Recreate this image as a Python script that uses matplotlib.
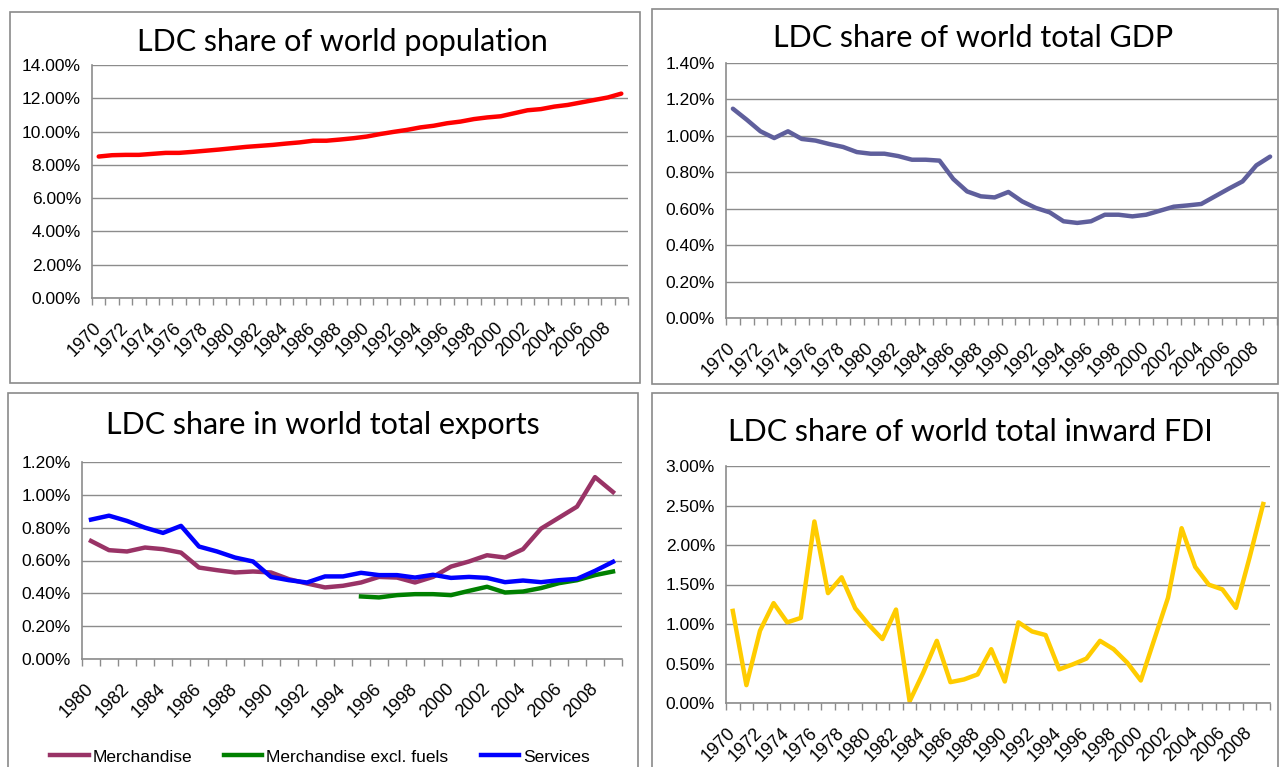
import numpy as np
import matplotlib
matplotlib.use("Agg")
import matplotlib.pyplot as plt
import matplotlib.transforms as mtransforms
from matplotlib.patches import Rectangle
from matplotlib.ticker import FuncFormatter

# data (shares in %)
years_70 = list(range(1970, 2010))
years_80 = list(range(1980, 2010))

population = [8.50, 8.58, 8.60, 8.60, 8.66, 8.72, 8.72, 8.78, 8.85, 8.92,
              9.00, 9.08, 9.14, 9.20, 9.28, 9.35, 9.45, 9.45, 9.52, 9.60,
              9.70, 9.85, 9.98, 10.10, 10.25, 10.35, 10.50, 10.60, 10.75, 10.85,
              10.92, 11.10, 11.28, 11.35, 11.50, 11.60, 11.75, 11.90, 12.05, 12.28]

gdp = [1.149, 1.089, 1.025, 0.988, 1.025, 0.983, 0.974, 0.955, 0.939, 0.911,
       0.902, 0.902, 0.889, 0.869, 0.869, 0.864, 0.763, 0.695, 0.668, 0.662,
       0.692, 0.640, 0.604, 0.580, 0.531, 0.522, 0.531, 0.567, 0.567, 0.558,
       0.567, 0.589, 0.611, 0.618, 0.626, 0.668, 0.710, 0.750, 0.838, 0.886]

merchandise = [0.719, 0.663, 0.655, 0.679, 0.669, 0.648, 0.557, 0.541, 0.527, 0.533,
               0.527, 0.486, 0.460, 0.436, 0.446, 0.466, 0.500, 0.496, 0.466, 0.500,
               0.563, 0.594, 0.632, 0.618, 0.669, 0.794, 0.861, 0.928, 1.108, 1.017]

merch_excl_fuels = [None] * 15 + [0.381, 0.375, 0.389, 0.395, 0.395,
                                  0.389, 0.415, 0.440, 0.405, 0.411,
                                  0.432, 0.462, 0.480, 0.511, 0.533]

services = [0.849, 0.873, 0.841, 0.800, 0.768, 0.811, 0.685, 0.655, 0.618, 0.594,
            0.500, 0.480, 0.466, 0.503, 0.503, 0.525, 0.511, 0.511, 0.496, 0.513,
            0.494, 0.500, 0.494, 0.468, 0.478, 0.468, 0.480, 0.488, 0.537, 0.592]

fdi = [1.166, 0.226, 0.915, 1.264, 1.021, 1.077, 2.298, 1.391, 1.591, 1.200,
       0.991, 0.809, 1.183, 0.021, 0.383, 0.787, 0.264, 0.298, 0.362, 0.681,
       0.272, 1.021, 0.906, 0.860, 0.426, 0.489, 0.562, 0.787, 0.681, 0.511,
       0.285, 0.809, 1.332, 2.213, 1.723, 1.498, 1.438, 1.204, 1.843, 2.519]

W, H = 1279, 767
TICK_FONT = ["Liberation Sans Narrow", "Liberation Sans", "DejaVu Sans"]
TITLE_FONT = ["Lato", "DejaVu Sans"]
GRID = "#8c8c8c"

fig = plt.figure(figsize=(W / 100, H / 100), dpi=100)


def box(x0, y0, x1, y1):
    # grey frame of each chart, pixel coords from the top-left
    r = Rectangle((x0 / W, 1 - y1 / H), (x1 - x0) / W, (y1 - y0) / H,
                  transform=fig.transFigure, fill=False, edgecolor="#8a8a8a", lw=1.2)
    fig.add_artist(r)


def make_axes(x0, y0, x1, y1):
    return fig.add_axes([x0 / W, 1 - y1 / H, (x1 - x0) / W, (y1 - y0) / H])


def style(ax, years, ymax, ystep):
    n = len(years)
    ax.set_xlim(-0.5, n - 0.5)
    ax.set_ylim(0, ymax)
    ax.set_yticks(np.arange(0, ymax + ystep / 2, ystep))
    ax.yaxis.set_major_formatter(FuncFormatter(lambda v, p: "%.2f%%" % v))
    ax.grid(axis="y", color=GRID, lw=1)
    ax.set_axisbelow(True)
    for s in ["top", "right"]:
        ax.spines[s].set_visible(False)
    for s in ["left", "bottom"]:
        ax.spines[s].set_color(GRID)
        ax.spines[s].set_linewidth(1.2)
    ax.tick_params(axis="y", length=0, pad=8)
    # labels every other year at category centres, tick marks at boundaries
    ax.set_xticks(range(0, n, 2))
    ax.set_xticklabels([str(y) for y in years[::2]], rotation=45,
                       ha="right", va="top", rotation_mode="anchor")
    ax.tick_params(axis="x", length=0, pad=15.5)
    ax.set_xticks(np.arange(-0.5, n, 1), minor=True)
    ax.tick_params(axis="x", which="minor", length=5, color=GRID, width=1)
    shift = mtransforms.ScaledTranslation(-6 / 100, 0, fig.dpi_scale_trans)
    for lab in ax.get_xticklabels():
        lab.set_transform(lab.get_transform() + shift)
        lab.set_family(TICK_FONT)
        lab.set_fontsize(13)
    for lab in ax.get_yticklabels():
        lab.set_family(TICK_FONT)
        lab.set_fontsize(12.5)


def title(text, cx, cy):
    fig.text(cx / W, 1 - cy / H, text, ha="center", va="center",
             fontsize=22, family=TITLE_FONT)


# frames
box(10, 12, 640, 383)
box(652, 9, 1278, 384)
box(8, 393, 638, 800)
box(652, 393, 1278, 800)

# population
ax1 = make_axes(92, 65, 628, 298)
style(ax1, years_70, 14, 2)
ax1.plot(range(len(population)), population, color="#ff0000", lw=3.2, solid_capstyle="round")
title("LDC share of world population", 342, 42)

# GDP
ax2 = make_axes(726, 63, 1277, 318)
style(ax2, years_70, 1.4, 0.2)
ax2.plot(range(len(gdp)), gdp, color="#5f5f9c", lw=3.2, solid_capstyle="round")
title("LDC share of world total GDP", 973, 38)

# exports
ax3 = make_axes(82, 462, 622, 659)
style(ax3, years_80, 1.2, 0.2)
x80 = np.arange(len(years_80))
mef = np.array([np.nan if v is None else v for v in merch_excl_fuels])
ax3.plot(x80, merchandise, color="#993366", lw=3.2, label="Merchandise")
ax3.plot(x80, mef, color="#008000", lw=3.2, label="Merchandise excl. fuels")
ax3.plot(x80, services, color="#0000ff", lw=3.2, label="Services")
title("LDC share in world total exports", 323, 425)
leg = fig.legend(loc="center", bbox_to_anchor=(320 / W, 1 - 757 / H), ncol=3,
                 frameon=False, handlelength=2.2, handletextpad=0.23, columnspacing=1.85,
                 prop={"family": TICK_FONT, "size": 12.5})

# FDI
ax4 = make_axes(726, 466, 1270, 703)
style(ax4, years_70, 3.0, 0.5)
ax4.plot(range(len(fdi)), fdi, color="#ffcc00", lw=3.2)
title("LDC share of world total inward FDI", 970, 432)

fig.savefig("out.png", dpi=100)
